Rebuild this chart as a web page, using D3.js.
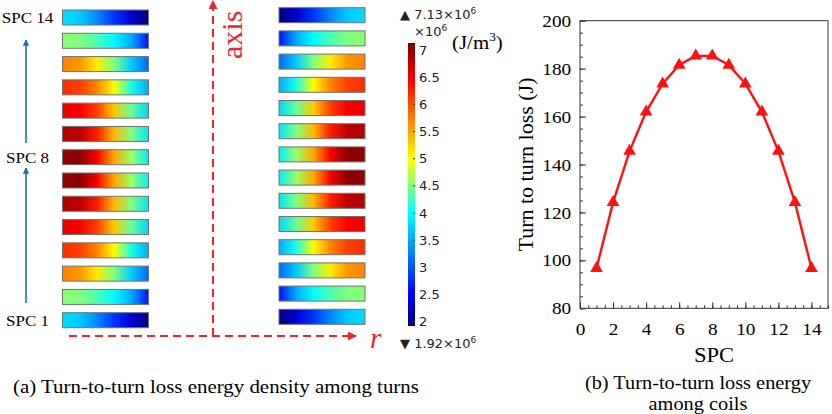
<!DOCTYPE html>
<html>
<head>
<meta charset="utf-8">
<script src="https://cdn.jsdelivr.net/npm/d3@7"></script>
<style>
  body { margin: 0; background: #fff; }
  svg { display: block; }
</style>
</head>
<body>
<div id="chart"></div>
<script>
// coils, numbered from the bottom
var spcNumbers = [1, 2, 3, 4, 5, 6, 7, 8, 9, 10, 11, 12, 13, 14];
// loss energy density (x10^6 J/m^3) along each coil, inner side -> outer side
var densityProfiles = [
  [1.95, 2.3, 2.8, 3.3, 3.7, 3.8],
  [2.6, 3.5, 4.0, 4.3, 4.5, 4.55],
  [3.1, 3.7, 4.5, 5.1, 5.6, 5.7],
  [3.5, 4.1, 5.0, 5.7, 6.1, 6.2],
  [3.75, 4.4, 5.3, 6.1, 6.5, 6.55],
  [3.85, 4.5, 5.4, 6.3, 6.8, 6.85],
  [3.9, 4.6, 5.5, 6.5, 7.05, 7.0],
  [3.9, 4.6, 5.5, 6.5, 7.05, 7.0],
  [3.85, 4.5, 5.4, 6.3, 6.8, 6.85],
  [3.75, 4.4, 5.3, 6.1, 6.5, 6.55],
  [3.5, 4.1, 5.0, 5.7, 6.1, 6.2],
  [3.1, 3.7, 4.5, 5.1, 5.6, 5.7],
  [2.6, 3.5, 4.0, 4.3, 4.5, 4.55],
  [1.95, 2.3, 2.8, 3.3, 3.7, 3.8]
];
var profileStops = [0, 0.2, 0.4, 0.6, 0.8, 1];
var densityMin = 1.92, densityMax = 7.13;
var colorbarTicks = [2, 2.5, 3, 3.5, 4, 4.5, 5, 5.5, 6, 6.5, 7];
var labelledSpc = [14, 8, 1];

// (b) turn-to-turn loss per coil (J)
var coilLoss = [96.7, 124.2, 145.6, 162, 173.7, 181.5, 185.3, 185.3, 181.5, 173.7, 162, 145.6, 124.2, 96.7];
var xTicks = [0, 2, 4, 6, 8, 10, 12, 14];
var yTicks = [80, 100, 120, 140, 160, 180, 200];

var SERIF = '"Liberation Serif", "Times New Roman", Times, serif';
var SANS = '"DejaVu Sans", sans-serif';
var STRETCH = 1.1; // the original figure is a bit wide

var width = 832, height = 414;
var svg = d3.select("#chart").append("svg")
  .attr("width", width)
  .attr("height", height);
var defs = svg.append("defs");

// serif label, slightly widened like the source picture
function label(x, y, str, size, anchor) {
  return svg.append("text")
    .attr("transform", "translate(" + x + "," + y + ") scale(" + STRETCH + ",1)")
    .attr("text-anchor", anchor || "start")
    .style("font-family", SERIF)
    .style("font-size", size + "px")
    .text(str);
}

// rainbow colour map, as on the colour bar
var rampPos = [0, 0.11, 0.4, 0.59, 0.87, 1];
var rampColors = ["#00007a", "#0000ff", "#00ffff", "#ffff00", "#ff0000", "#7a0000"];
var ramp = d3.scaleLinear().domain(rampPos).range(rampColors).clamp(true);
var color = function (v) { return ramp((v - densityMin) / (densityMax - densityMin)); };

// ---------- (a) coil cross sections ----------
var yLeft = d3.scaleLinear().domain([14, 1]).range([10, 312.7]);
var yRight = d3.scaleLinear().domain([14, 1]).range([7.7, 309.3]);
var barH = 15;

spcNumbers.forEach(function (s, i) {
  ["L", "R"].forEach(function (side) {
    var grad = defs.append("linearGradient")
      .attr("id", "g" + side + s)
      .attr("x1", side == "R" ? "0%" : "100%")
      .attr("x2", side == "R" ? "100%" : "0%")
      .attr("y1", "0%").attr("y2", "0%");
    densityProfiles[i].forEach(function (v, k) {
      grad.append("stop")
        .attr("offset", profileStops[k] * 100 + "%")
        .attr("stop-color", color(v));
    });
  });
});

svg.append("g").selectAll("rect")
  .data(spcNumbers)
  .enter()
  .append("rect")
  .attr("x", 62.5)
  .attr("y", function (d) { return yLeft(d); })
  .attr("width", 86)
  .attr("height", barH)
  .attr("fill", function (d) { return "url(#gL" + d + ")"; })
  .attr("stroke", "#6f7470")
  .attr("stroke-width", 1);

svg.append("g").selectAll("rect")
  .data(spcNumbers)
  .enter()
  .append("rect")
  .attr("x", 279)
  .attr("y", function (d) { return yRight(d); })
  .attr("width", 86)
  .attr("height", barH)
  .attr("fill", function (d) { return "url(#gR" + d + ")"; })
  .attr("stroke", "#6f7470")
  .attr("stroke-width", 1);

// SPC labels
labelledSpc.forEach(function (d) {
  label(27.5, yLeft(d) + barH / 2 + 5.5, "SPC " + d, 15.5, "middle");
});

// blue arrows
defs.append("marker")
  .attr("id", "blueHead")
  .attr("viewBox", "0 0 10 10")
  .attr("refX", 9).attr("refY", 5)
  .attr("markerWidth", 5).attr("markerHeight", 4)
  .attr("orient", "auto")
  .append("path").attr("d", "M0,0 L10,5 L0,10 Z").attr("fill", "#1f6fb3");

[[303, 168], [143, 40]].forEach(function (a) {
  svg.append("line")
    .attr("x1", 26).attr("x2", 26)
    .attr("y1", a[0]).attr("y2", a[1])
    .attr("stroke", "#1f6fb3")
    .attr("stroke-width", 1.6)
    .attr("marker-end", "url(#blueHead)");
});

// red dashed axes
defs.append("marker")
  .attr("id", "redHead")
  .attr("viewBox", "0 0 10 10")
  .attr("refX", 9).attr("refY", 5)
  .attr("markerWidth", 5).attr("markerHeight", 4.5)
  .attr("orient", "auto")
  .append("path").attr("d", "M0,0 L10,5 L0,10 Z").attr("fill", "#e8262b");

svg.append("line")
  .attr("x1", 213).attr("x2", 213)
  .attr("y1", 336).attr("y2", 1)
  .attr("stroke", "#e8262b").attr("stroke-width", 2)
  .attr("stroke-dasharray", "8,5")
  .attr("marker-end", "url(#redHead)");
svg.append("line")
  .attr("x1", 69).attr("x2", 356)
  .attr("y1", 336).attr("y2", 336)
  .attr("stroke", "#e8262b").attr("stroke-width", 2)
  .attr("stroke-dasharray", "8,5")
  .attr("marker-end", "url(#redHead)");

svg.append("text")
  .attr("transform", "translate(242,59) rotate(-90)")
  .style("font-family", SERIF)
  .style("font-size", "30px")
  .attr("fill", "#e8262b")
  .text("axis");
svg.append("text")
  .attr("x", 370).attr("y", 348)
  .style("font-family", SERIF)
  .style("font-size", "29px")
  .style("font-style", "italic")
  .attr("fill", "#e8262b")
  .text("r");

// colour bar
var cbar = d3.scaleLinear().domain([densityMin, densityMax]).range([326, 43]);
var cGrad = defs.append("linearGradient")
  .attr("id", "cbarGrad")
  .attr("x1", "0%").attr("x2", "0%")
  .attr("y1", "100%").attr("y2", "0%");
rampPos.forEach(function (t, i) {
  cGrad.append("stop").attr("offset", t * 100 + "%").attr("stop-color", rampColors[i]);
});
svg.append("rect")
  .attr("x", 408).attr("y", cbar(densityMax))
  .attr("width", 7).attr("height", cbar(densityMin) - cbar(densityMax))
  .attr("fill", "url(#cbarGrad)");

var cbTicks = svg.append("g").style("font-family", SANS).style("font-size", "13px");
cbTicks.selectAll("line")
  .data(colorbarTicks)
  .enter()
  .append("line")
  .attr("x1", 413).attr("x2", 415)
  .attr("y1", function (d) { return cbar(d); })
  .attr("y2", function (d) { return cbar(d); })
  .attr("stroke", "#333");
cbTicks.selectAll("text")
  .data(colorbarTicks)
  .enter()
  .append("text")
  .attr("x", 419)
  .attr("y", function (d) { return cbar(d); })
  .attr("dy", "0.35em")
  .attr("fill", "#222")
  .text(function (d) { return d; });

function expLabel(xp, yp, prefix) {
  var t = svg.append("text")
    .attr("x", xp).attr("y", yp)
    .style("font-family", SANS)
    .style("font-size", "13px").attr("fill", "#222");
  t.append("tspan").text(prefix + "\u00D710");
  t.append("tspan").attr("dy", -5).style("font-size", "9px").text("6");
}
expLabel(400, 19, "\u25B2 " + densityMax.toFixed(2));
expLabel(414, 36, "");
expLabel(400, 348, "\u25BC " + densityMin.toFixed(2));

var jm = label(452, 49, "", 19);
jm.append("tspan").text("(J/m");
jm.append("tspan").attr("dy", -8).style("font-size", "12px").text("3");
jm.append("tspan").attr("dy", 8).text(")");

label(13, 393, "(a) Turn-to-turn loss energy density among turns", 19);

// ---------- (b) loss per coil ----------
var plot = { left: 580, right: 828, top: 20.7, bottom: 308.3 };
var x = d3.scaleLinear().domain([0, 15]).range([plot.left, plot.right]);
var y = d3.scaleLinear().domain([80, 200]).range([plot.bottom, plot.top]);

var g = svg.append("g");

g.append("g")
  .attr("transform", "translate(0," + plot.bottom + ")")
  .call(d3.axisBottom(x).ticks(30).tickSize(-3).tickSizeOuter(0).tickFormat(""))
  .call(function (a) { a.select(".domain").remove(); });
g.append("g")
  .attr("transform", "translate(0," + plot.bottom + ")")
  .call(d3.axisBottom(x).tickValues(xTicks).tickSize(-6).tickSizeOuter(0).tickPadding(14))
  .call(function (a) { a.select(".domain").remove(); });

g.append("g")
  .attr("transform", "translate(" + plot.left + ",0)")
  .call(d3.axisLeft(y).ticks(24).tickSize(-3).tickSizeOuter(0).tickFormat(""))
  .call(function (a) { a.select(".domain").remove(); });
g.append("g")
  .attr("transform", "translate(" + plot.left + ",0)")
  .call(d3.axisLeft(y).tickValues(yTicks).tickSize(-6).tickSizeOuter(0).tickPadding(8))
  .call(function (a) { a.select(".domain").remove(); });

g.selectAll(".tick line").attr("stroke", "#333");
g.selectAll(".tick text")
  .attr("transform", "scale(" + STRETCH + ",1)")
  .style("font-family", SERIF)
  .style("font-size", "17.5px")
  .attr("fill", "#000");

g.append("rect")
  .attr("x", plot.left).attr("y", plot.top)
  .attr("width", plot.right - plot.left)
  .attr("height", plot.bottom - plot.top)
  .attr("fill", "none")
  .attr("stroke", "#333")
  .attr("stroke-width", 1);

var line = d3.line()
  .x(function (d, i) { return x(spcNumbers[i]); })
  .y(function (d) { return y(d); });

g.append("path")
  .datum(coilLoss)
  .attr("d", line)
  .attr("fill", "none")
  .attr("stroke", "#ff1010")
  .attr("stroke-width", 2.4);

g.selectAll(".marker")
  .data(coilLoss)
  .enter()
  .append("path")
  .attr("class", "marker")
  .attr("transform", function (d, i) { return "translate(" + x(spcNumbers[i]) + "," + y(d) + ")"; })
  .attr("d", d3.symbol().type(d3.symbolTriangle).size(70))
  .attr("fill", "#ff1010");

label(714, 362, "SPC", 20.5, "middle");

svg.append("text")
  .attr("transform", "translate(533," + (plot.top + plot.bottom) / 2 + ") rotate(-90)")
  .attr("text-anchor", "middle")
  .style("font-family", SERIF)
  .style("font-size", "22px")
  .text("Turn to turn loss (J)");

label(698, 389, "(b) Turn-to-turn loss energy", 18.5, "middle");
label(698, 409.5, "among coils", 18.5, "middle");
</script>
</body>
</html>
